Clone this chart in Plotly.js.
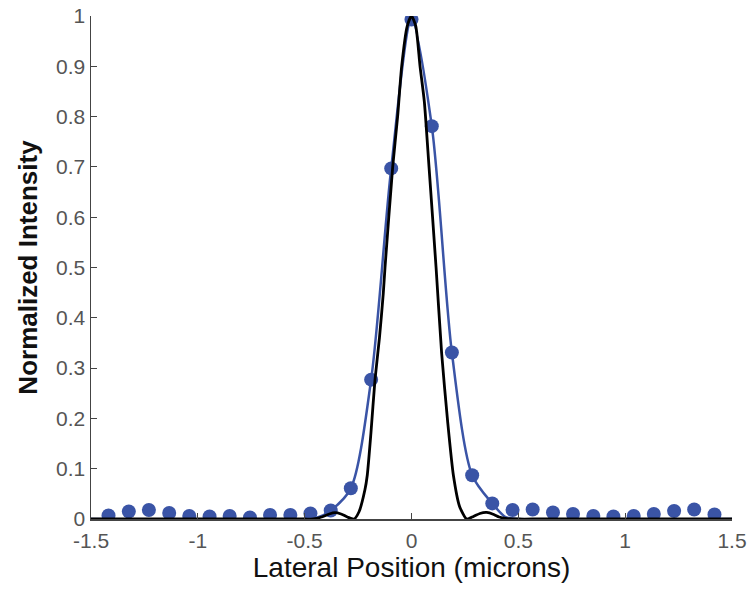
<!DOCTYPE html>
<html>
<head>
<meta charset="utf-8">
<script src="https://cdn.plot.ly/plotly-3.0.1.min.js"></script>
<style>html,body{margin:0;padding:0;background:#fff;}#chart{width:752px;height:592px;}</style>
</head>
<body>
<div id="chart"></div>
<script>
// Measured points (blue dots)
var measX = [-1.418,-1.323,-1.229,-1.134,-1.040,-0.945,-0.851,-0.756,-0.662,-0.567,-0.473,-0.378,-0.284,-0.189,-0.095,0,0.095,0.189,0.284,0.378,0.473,0.567,0.662,0.756,0.851,0.945,1.040,1.134,1.229,1.323,1.418];
var measY = [0.007,0.015,0.018,0.012,0.006,0.005,0.006,0.003,0.008,0.008,0.011,0.017,0.061,0.277,0.697,0.993,0.781,0.331,0.087,0.031,0.018,0.019,0.013,0.010,0.006,0.005,0.006,0.010,0.016,0.019,0.009];

// Fitted blue curve
var fitX = [-1.5,-0.5,-0.44,-0.378,-0.284,-0.189,-0.095,0,0.095,0.189,0.284,0.378,0.44,0.5,1.5];
var fitY = [0,0,0.003,0.017,0.061,0.277,0.697,0.993,0.781,0.331,0.087,0.031,0.004,0,0];

// Theoretical black curve
var theoX = [-1.5,-0.6,-0.5,-0.46,-0.42,-0.385,-0.358,-0.33,-0.30,-0.269,-0.245,-0.218,-0.207,-0.190,-0.171,-0.150,-0.132,-0.124,-0.088,-0.065,-0.046,-0.02,0,0.02,0.040,0.060,0.082,0.115,0.141,0.170,0.196,0.225,0.258,0.29,0.32,0.352,0.385,0.41,0.44,0.5,0.6,1.5];
var theoY = [0,0,0,0,0.004,0.010,0.0125,0.010,0.004,0,0.015,0.058,0.087,0.17,0.276,0.36,0.449,0.50,0.70,0.80,0.90,0.98,1.0,0.98,0.90,0.83,0.70,0.50,0.33,0.19,0.087,0.025,0,0.005,0.011,0.013,0.009,0.004,0.001,0,0,0];

var xTickVals = [-1.5,-1,-0.5,0,0.5,1,1.5];
var xTickText = ['-1.5','-1','-0.5','0','0.5','1','1.5'];
var yTickVals = [0,0.1,0.2,0.3,0.4,0.5,0.6,0.7,0.8,0.9,1];
var yTickText = ['0','0.1','0.2','0.3','0.4','0.5','0.6','0.7','0.8','0.9','1'];

var blue = '#3a54a6';
var traces = [
  {x: fitX, y: fitY, type: 'scatter', mode: 'lines', line: {color: blue, width: 2.5, shape: 'spline', smoothing: 0.8}, hoverinfo: 'skip'},
  {x: measX, y: measY, type: 'scatter', mode: 'markers', marker: {color: blue, size: 14, line: {width: 0}}},
  {x: theoX, y: theoY, type: 'scatter', mode: 'lines', line: {color: '#000', width: 2.8, shape: 'spline', smoothing: 0.6}}
];

var font = "'Liberation Sans', Arial, sans-serif";
var layout = {
  width: 752, height: 592,
  margin: {l: 91, r: 20, t: 16, b: 73},
  paper_bgcolor: '#fff', plot_bgcolor: '#fff',
  showlegend: false,
  font: {family: font, color: '#555', size: 21},
  xaxis: {
    range: [-1.5, 1.5], tickvals: xTickVals, ticktext: xTickText,
    ticks: 'inside', ticklen: 6, tickwidth: 1, tickcolor: '#444',
    showline: true, linecolor: '#444', linewidth: 1.5, mirror: false,
    showgrid: false, zeroline: false, ticklabelstandoff: 2,
    tickfont: {family: font, size: 21, color: '#555'},
    title: {text: 'Lateral Position (microns)', font: {family: font, size: 28, color: '#111'}, standoff: 6}
  },
  yaxis: {
    range: [0, 1], tickvals: yTickVals, ticktext: yTickText,
    ticks: 'inside', ticklen: 6, tickwidth: 1, tickcolor: '#444',
    showline: true, linecolor: '#444', linewidth: 1.5, mirror: false,
    showgrid: false, zeroline: false,
    tickfont: {family: font, size: 21, color: '#555'},
    title: {text: '<b>Normalized Intensity</b>', font: {family: font, size: 26, color: '#111'}, standoff: 11}
  }
};
Plotly.newPlot('chart', traces, layout, {staticPlot: true, displayModeBar: false});
</script>
</body>
</html>
